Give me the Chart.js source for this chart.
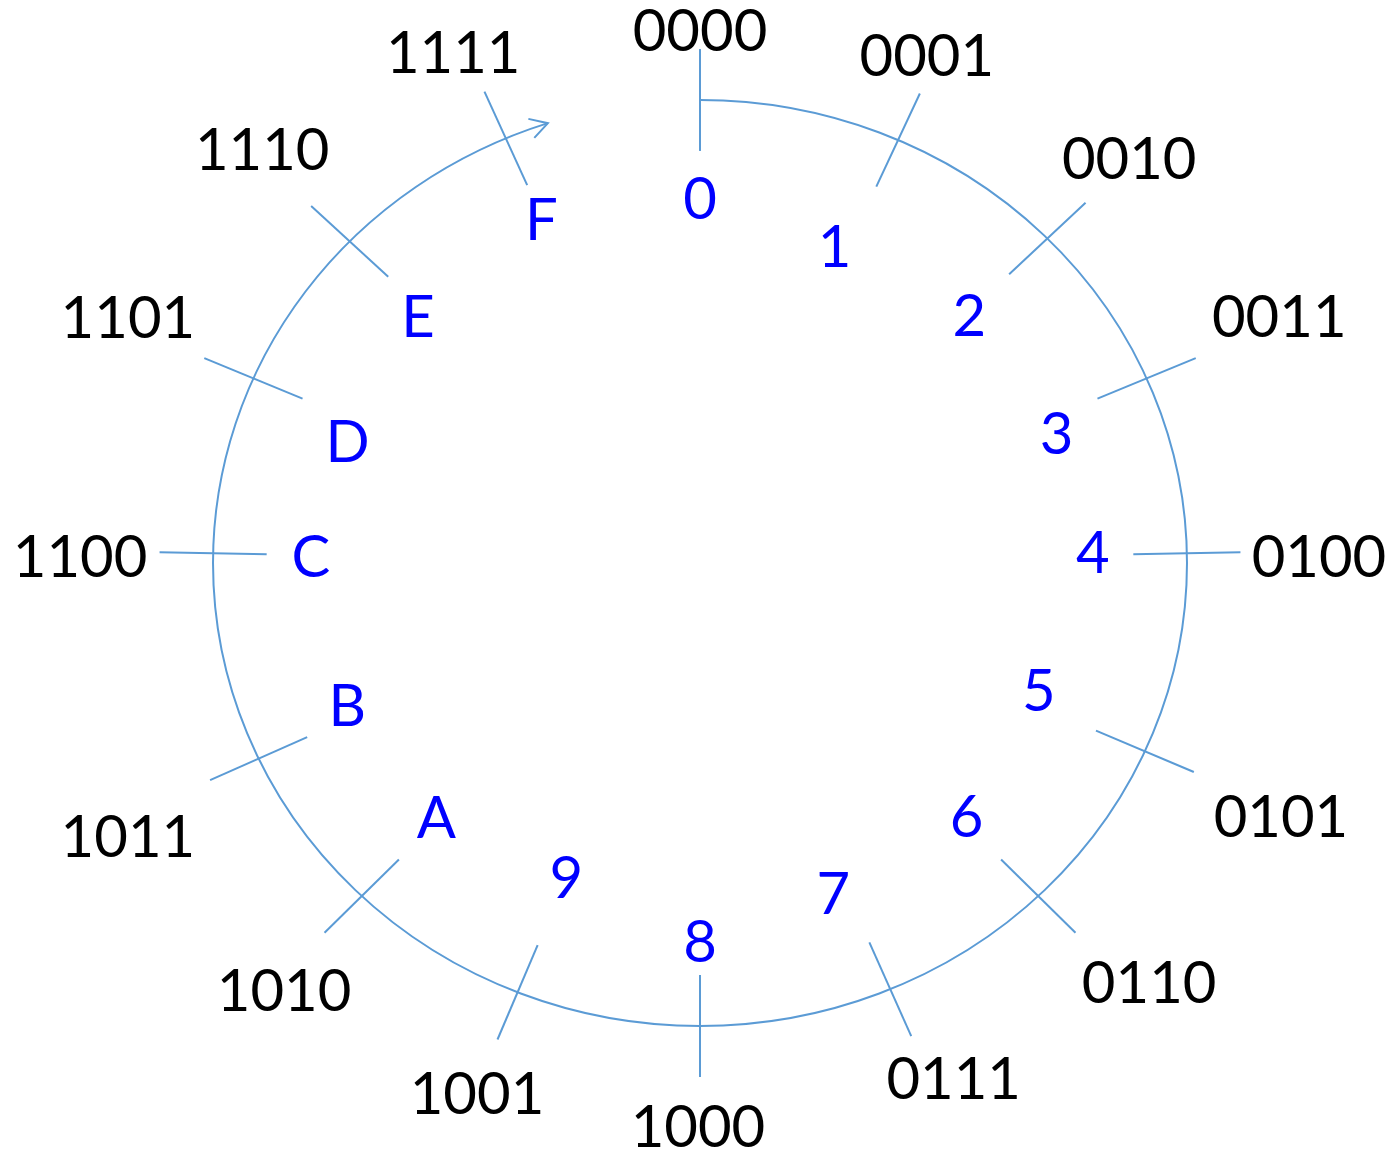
<!DOCTYPE html>
<html>
<head>
<meta charset="utf-8">
<script src="https://cdn.jsdelivr.net/npm/chart.js@4.4.1/dist/chart.umd.min.js"></script>
<style>
  html, body { margin: 0; padding: 0; background: #fff; }
  #wrap { width: 1391px; height: 1151px; position: relative; }
</style>
</head>
<body>
<div id="wrap"><canvas id="counterChart"></canvas></div>
<script>
// 4-bit counter wheel: hex digit inside, binary code outside
const hexLabels = ['0', '1', '2', '3', '4', '5', '6', '7', '8', '9', 'A', 'B', 'C', 'D', 'E', 'F'];
const binaryLabels = ['0000', '0001', '0010', '0011', '0100', '0101', '0110', '0111',
                      '1000', '1001', '1010', '1011', '1100', '1101', '1110', '1111'];
// tick directions, degrees clockwise from the top
const tickAngles = [0, 24, 45.5, 66.5, 88.8, 114, 136, 157, 180, 202, 224, 245, 271.2, 293.5, 314, 336.5];

// layout (angle, radius in circle units) of each label
const hexPos = [[0, .788], [22, .738], [46, .769], [69, .784], [88.4, .807], [111.5, .748], [135, .774], [159, .764],
                [180, .816], [202, .733], [224.6, .771], [247, .787], [271.1, .799], [290, .770], [312.6, .787], [336.3, .81]];
const binPos = [[0, 1.151], [23, 1.192], [45.2, 1.242], [65.9, 1.303], [89.3, 1.271], [114.6, 1.312], [134.5, 1.293], [154.9, 1.228],
                [180.2, 1.216], [201.8, 1.233], [222.8, 1.257], [243.3, 1.315], [270.7, 1.273], [294.3, 1.289], [314.8, 1.267], [335.3, 1.213]];

const lineColor = '#5B9BD5';
const tickInner = 0.89, tickOuter = 1.11;
const arcEnd = 251.8; // canvas degrees where the arrow tip sits

function polar(angle, r) {
    const a = angle * Math.PI / 180;
    return { x: r * Math.sin(a), y: r * Math.cos(a) };
}

const tickSets = tickAngles.map(a => ({
    data: [polar(a, tickInner), polar(a, tickOuter)],
    showLine: true,
    borderColor: lineColor,
    borderWidth: 2,
    pointRadius: 0,
    pointHoverRadius: 0
}));

const hexSet = {
    data: hexPos.map(p => polar(p[0], p[1])),
    labels: hexLabels, textColor: '#0000FF',
    pointRadius: 0, showLine: false
};
const binSet = {
    data: binPos.map(p => polar(p[0], p[1])),
    labels: binaryLabels, textColor: '#000000',
    pointRadius: 0, showLine: false
};

const wheelPlugin = {
    id: 'wheel',
    beforeDatasetsDraw(chart) {
        const { ctx, scales: { x, y } } = chart;
        const cx = x.getPixelForValue(0), cy = y.getPixelForValue(0);
        const rx = x.getPixelForValue(1) - cx, ry = cy - y.getPixelForValue(1);
        const t0 = -Math.PI / 2, t1 = arcEnd * Math.PI / 180;
        ctx.save();
        ctx.strokeStyle = lineColor;
        ctx.lineWidth = 2;
        ctx.beginPath();
        ctx.ellipse(cx, cy, rx, ry, 0, t0, t1);
        ctx.stroke();
        // open arrowhead at the end of the arc
        const tipX = cx + rx * Math.cos(t1), tipY = cy + ry * Math.sin(t1);
        const dir = Math.atan2(ry * Math.cos(t1), -rx * Math.sin(t1));
        const back = dir + Math.PI, len = 20, spread = 0.52;
        ctx.beginPath();
        ctx.moveTo(tipX + len * Math.cos(back + spread), tipY + len * Math.sin(back + spread));
        ctx.lineTo(tipX, tipY);
        ctx.lineTo(tipX + len * Math.cos(back - spread), tipY + len * Math.sin(back - spread));
        ctx.stroke();
        ctx.restore();
    },
    afterDatasetsDraw(chart) {
        const ctx = chart.ctx;
        ctx.save();
        ctx.font = '58px Lato, "Open Sans", sans-serif';
        ctx.textAlign = 'center';
        ctx.textBaseline = 'middle';
        chart.data.datasets.forEach((ds, i) => {
            if (!ds.labels) return;
            ctx.fillStyle = ds.textColor;
            chart.getDatasetMeta(i).data.forEach((pt, j) => {
                ctx.fillText(ds.labels[j], pt.x, pt.y + 2);
            });
        });
        ctx.restore();
    }
};

new Chart(document.getElementById('counterChart'), {
    type: 'scatter',
    data: { datasets: [...tickSets, hexSet, binSet] },
    options: {
        responsive: true,
        maintainAspectRatio: false,
        animation: false,
        layout: { padding: 0 },
        plugins: { legend: { display: false }, tooltip: { enabled: false } },
        scales: {
            x: { type: 'linear', min: -1.4374, max: 1.4189, display: false },
            y: { type: 'linear', min: -1.270, max: 1.216, display: false }
        }
    },
    plugins: [wheelPlugin]
});
</script>
</body>
</html>
